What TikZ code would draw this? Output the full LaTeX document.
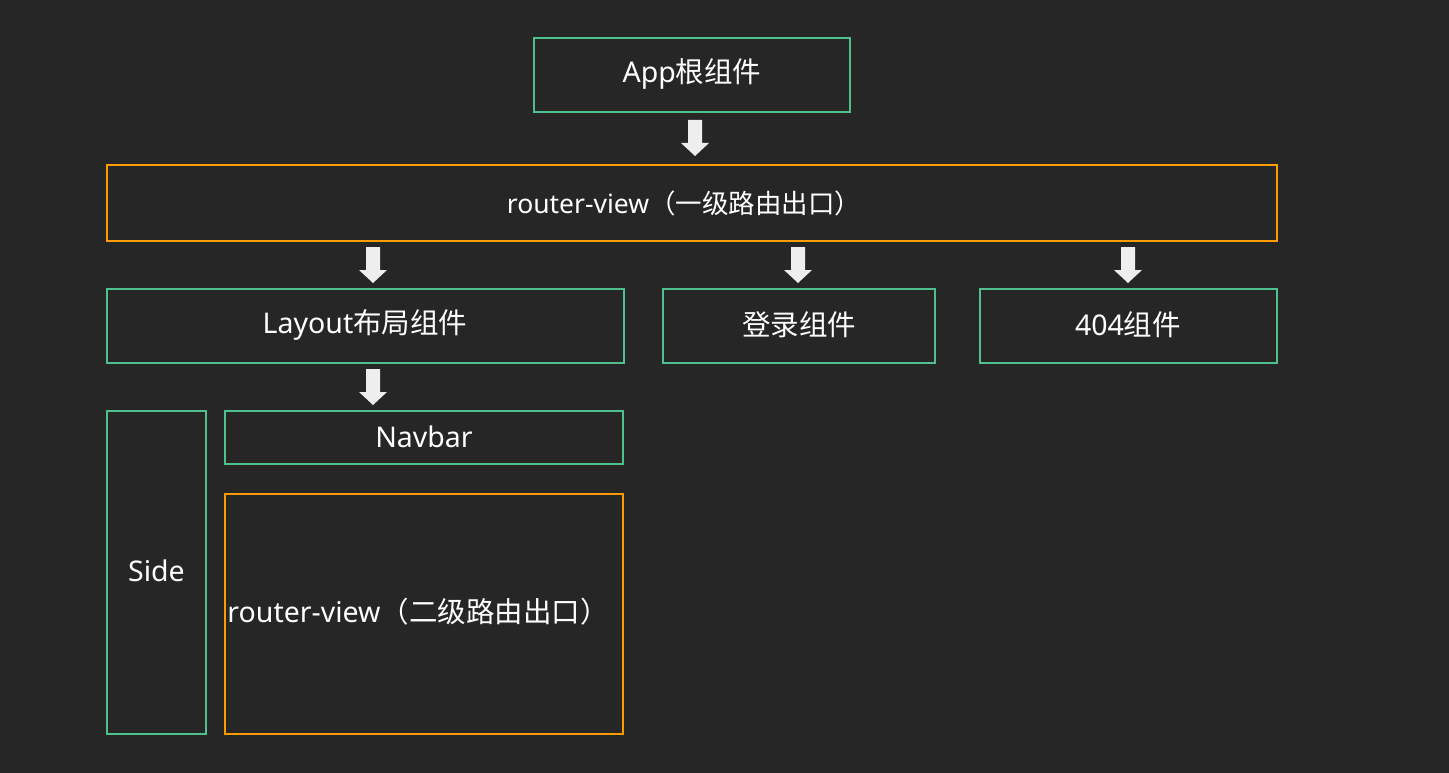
\documentclass[tikz,border=0pt]{standalone}
\usepackage{fontspec}
\setmainfont{Noto Sans}
\newfontfamily\cjk{Noto Sans CJK SC}
\definecolor{bg}{HTML}{262626}
\definecolor{vgreen}{HTML}{4FC08D}
\definecolor{vorange}{HTML}{FF9A00}
\definecolor{arr}{HTML}{EEEEEE}
\begin{document}
\begin{tikzpicture}[x=1pt,y=-1pt,
  gbox/.style={draw=vgreen,line width=2pt},
  obox/.style={draw=vorange,line width=2pt},
  lbl/.style={text=white,font=\fontsize{28.5}{32}\selectfont,inner sep=0pt},
  blockarrow/.pic={\fill[arr] (-7,0) -- (7,0) -- (7,23) -- (14,23) -- (0,36) -- (-14,23) -- (-7,23) -- cycle;}]
\fill[bg] (0,0) rectangle (1449,773);
\useasboundingbox (0,0) rectangle (1449,773);
\draw[gbox] (534,38) rectangle (850,112);
\node[lbl] (app) at (692,74) {App{\cjk 根组件}};
\draw[obox] (107,165) rectangle (1277,241);
\node[lbl,font=\fontsize{26.5}{30}\selectfont] (rv1) at (684,203) {router-view{\cjk （一级路由出口）}};
\draw[gbox] (107,289) rectangle (624,363);
\node[lbl] (layout) at (365,325) {Layout{\cjk 布局组件}};
\draw[gbox] (663,289) rectangle (935,363);
\node[lbl] (login) at (799,325) {\cjk 登录组件};
\draw[gbox] (980,289) rectangle (1277,363);
\node[lbl] (nf) at (1128,325) {404{\cjk 组件}};
\draw[gbox] (107,411) rectangle (206,734);
\node[lbl] (side) at (156.5,571) {Side};
\draw[gbox] (225,411) rectangle (623,464);
\node[lbl] (navbar) at (424,437) {Navbar};
\draw[obox] (225,494) rectangle (623,734);
\node[lbl] (rv2) at (418,612) {router-view{\cjk （二级路由出口）}};
\pic at (695,120) {blockarrow};
\pic at (373,247) {blockarrow};
\pic at (798,247) {blockarrow};
\pic at (1128,247) {blockarrow};
\pic at (373,369) {blockarrow};
\end{tikzpicture}
\end{document}
